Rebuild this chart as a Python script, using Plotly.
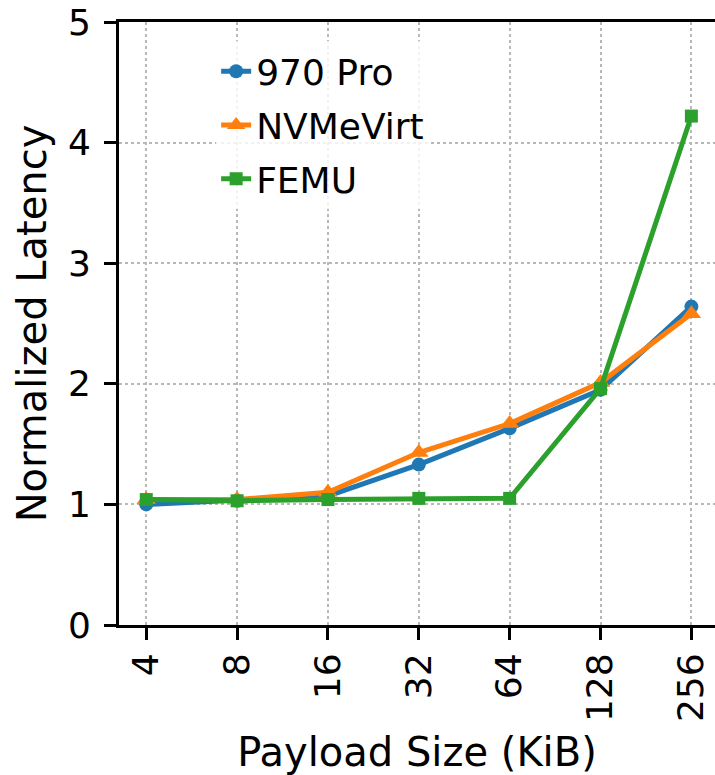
import plotly.graph_objects as go

payload_kib = ["4", "8", "16", "32", "64", "128", "256"]
pro970 = [1.00, 1.03, 1.07, 1.33, 1.63, 1.95, 2.64]
nvmevirt = [1.04, 1.04, 1.10, 1.43, 1.67, 2.01, 2.58]
femu = [1.04, 1.03, 1.04, 1.05, 1.05, 1.96, 4.22]

series = [
    ("970 Pro", pro970, "#1f77b4", "circle", 14),
    ("NVMeVirt", nvmevirt, "#ff7f0e", "triangle-up", 17),
    ("FEMU", femu, "#2ca02c", "square", 13),
]

FONT = "DejaVu Sans"
fig = go.Figure()
xs = list(range(len(payload_kib)))
for i, (name, vals, color, sym, ms) in enumerate(series):
    fig.add_trace(go.Scatter(
        x=xs, y=vals, name=name, mode="lines+markers",
        line=dict(color=color, width=5),
        marker=dict(symbol=sym, size=ms, color=color),
        legendgroup=f"g{i}",
    ))

fig.update_layout(
    width=715, height=775,
    margin=dict(l=119, r=0, t=22, b=150),
    paper_bgcolor="white", plot_bgcolor="white",
    font=dict(family=FONT, size=36, color="black"),
    showlegend=True,
    legend=dict(
        x=0.163, y=0.968, xanchor="left", yanchor="top",
        bgcolor="rgba(255,255,255,0.8)", borderwidth=0,
        font=dict(family=FONT, size=36, color="black"),
        tracegroupgap=4,
    ),
)
fig.update_xaxes(
    range=[-0.3, 6.26], automargin=False,
    tickmode="array", tickvals=xs, ticktext=payload_kib,
    tickangle=-90, tickfont=dict(size=36),
    ticklabeloverflow="allow",
    showline=True, linecolor="black", linewidth=3, mirror=True,
    ticks="outside", ticklen=12, tickwidth=3, tickcolor="black",
    ticklabelstandoff=-1,
    showgrid=True, gridcolor="#b8b8b8", griddash="dot", gridwidth=1.5,
    zeroline=False,
    title=dict(text="Payload Size (KiB)", font=dict(size=40), standoff=18),
)
fig.update_yaxes(
    range=[0, 5], dtick=1, automargin=False, tickfont=dict(size=36),
    ticklabeloverflow="allow",
    showline=True, linecolor="black", linewidth=3,
    ticks="outside", ticklen=12, tickwidth=3, tickcolor="black",
    ticklabelstandoff=6,
    showgrid=True, gridcolor="#b8b8b8", griddash="dot", gridwidth=1.5,
    zeroline=False,
    title=dict(text="Normalized Latency", font=dict(size=40), standoff=9),
)

# remove the browser's default 8px body margin so the figure fills the window
fig.write_html(
    "out.html",
    config={"displayModeBar": False},
    post_script="document.body.style.margin='0px';",
)
